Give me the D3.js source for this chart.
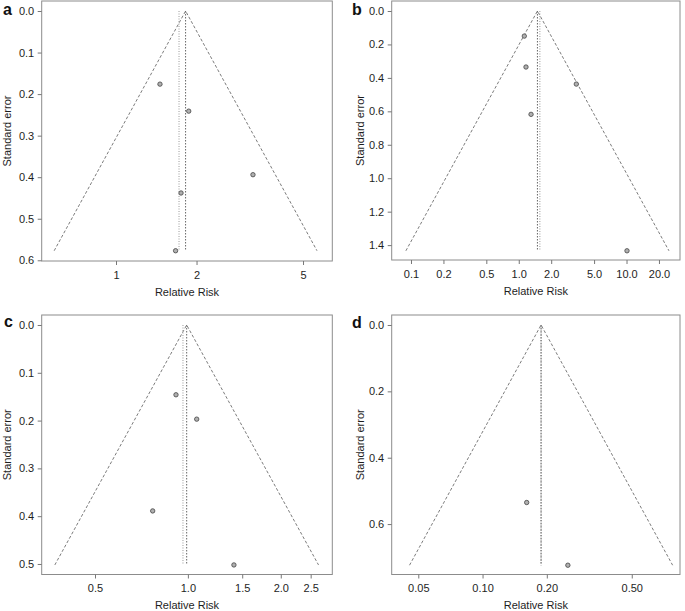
<!DOCTYPE html>
<html>
<head>
<meta charset="utf-8">
<script src="https://cdn.jsdelivr.net/npm/d3@7"></script>
<style>
  body { margin: 0; background: #fff; }
  svg { display: block; font-family: "Liberation Sans", Arial, sans-serif; }
</style>
</head>
<body>
<svg id="chart" width="685" height="611"></svg>
<script>
// study estimates (relative risk, standard error)
const rrA = [1.46, 1.87, 3.25, 1.75, 1.67];
const seA = [0.176, 0.241, 0.394, 0.438, 0.577];
const rrB = [1.126, 1.167, 3.42, 1.30, 10.1];
const seB = [0.150, 0.335, 0.437, 0.618, 1.434];
const rrC = [0.915, 1.068, 0.769, 1.41];
const seC = [0.146, 0.197, 0.389, 0.502];
const rrD = [0.161, 0.251];
const seD = [0.535, 0.724];

// pooled estimate (funnel centre) and the second summary line
const pooledRR = [1.82, 1.49, 0.991, 0.188];
const altRR = [1.72, 1.57, 0.964, 0.188];

const panelLetters = ["a", "b", "c", "d"];

// axis limits
const xDomainA = [0.5276, 6.433];
const xDomainB = [0.06621, 31.35];
const xDomainC = [0.3359, 2.938];
const xDomainD = [0.03753, 0.8414];
const yDomainA = [-0.0241, 0.6017];
const yDomainB = [-0.0598, 1.489];
const yDomainC = [-0.0209, 0.522];
const yDomainD = [-0.0301, 0.752];

// ticks
const xTicksA = [1, 2, 5];
const xLabelsA = ["1", "2", "5"];
const xTicksB = [0.1, 0.2, 0.5, 1, 2, 5, 10, 20];
const xLabelsB = ["0.1", "0.2", "0.5", "1.0", "2.0", "5.0", "10.0", "20.0"];
const xTicksC = [0.5, 1, 1.5, 2, 2.5];
const xLabelsC = ["0.5", "1.0", "1.5", "2.0", "2.5"];
const xTicksD = [0.05, 0.1, 0.2, 0.5];
const xLabelsD = ["0.05", "0.10", "0.20", "0.50"];
const yTicksA = [0, 0.1, 0.2, 0.3, 0.4, 0.5, 0.6];
const yLabelsA = ["0.0", "0.1", "0.2", "0.3", "0.4", "0.5", "0.6"];
const yTicksB = [0, 0.2, 0.4, 0.6, 0.8, 1.0, 1.2, 1.4];
const yLabelsB = ["0.0", "0.2", "0.4", "0.6", "0.8", "1.0", "1.2", "1.4"];
const yTicksC = [0, 0.1, 0.2, 0.3, 0.4, 0.5];
const yLabelsC = ["0.0", "0.1", "0.2", "0.3", "0.4", "0.5"];
const yTicksD = [0, 0.2, 0.4, 0.6];
const yLabelsD = ["0.0", "0.2", "0.4", "0.6"];

const xTitle = "Relative Risk";
const yTitle = "Standard error";

const panels = [
  { letter: panelLetters[0], rr: rrA, se: seA, pooled: pooledRR[0], alt: altRR[0],
    xDomain: xDomainA, yDomain: yDomainA, xTicks: xTicksA, xLabels: xLabelsA, yTicks: yTicksA, yLabels: yLabelsA,
    box: { left: 41.7, top: 1, right: 332.3, bottom: 261 }, letterPos: [3, 14.5], yTitleX: 10.5 },
  { letter: panelLetters[1], rr: rrB, se: seB, pooled: pooledRR[1], alt: altRR[1],
    xDomain: xDomainB, yDomain: yDomainB, xTicks: xTicksB, xLabels: xLabelsB, yTicks: yTicksB, yLabels: yLabelsB,
    box: { left: 391.7, top: 1, right: 680, bottom: 260 }, letterPos: [352, 15], yTitleX: 364 },
  { letter: panelLetters[2], rr: rrC, se: seC, pooled: pooledRR[2], alt: altRR[2],
    xDomain: xDomainC, yDomain: yDomainC, xTicks: xTicksC, xLabels: xLabelsC, yTicks: yTicksC, yLabels: yLabelsC,
    box: { left: 41.7, top: 315, right: 332.3, bottom: 574.5 }, letterPos: [4, 327], yTitleX: 10.5 },
  { letter: panelLetters[3], rr: rrD, se: seD, pooled: pooledRR[3], alt: altRR[3],
    xDomain: xDomainD, yDomain: yDomainD, xTicks: xTicksD, xLabels: xLabelsD, yTicks: yTicksD, yLabels: yLabelsD,
    box: { left: 391.7, top: 315, right: 680, bottom: 574.5 }, letterPos: [352, 327.5], yTitleX: 364 }
];

const svg = d3.select("#chart");

function drawPanel(p) {
  const g = svg.append("g").attr("class", "panel");
  const b = p.box;
  const x = d3.scaleLog().domain(p.xDomain).range([b.left, b.right]);
  const y = d3.scaleLinear().domain(p.yDomain).range([b.top, b.bottom]);
  const maxSe = d3.max(p.se);

  // frame
  g.append("rect")
    .attr("x", b.left).attr("y", b.top)
    .attr("width", b.right - b.left).attr("height", b.bottom - b.top)
    .attr("fill", "none").attr("stroke", "#8c8c8c").attr("stroke-width", 1);

  // y axis
  const yAxis = g.append("g")
    .attr("transform", `translate(${b.left},0)`)
    .call(d3.axisLeft(y).tickValues(p.yTicks).tickFormat((d, i) => p.yLabels[i]).tickSize(4).tickPadding(3.5));
  yAxis.select(".domain").remove();

  // x axis
  const xAxis = g.append("g")
    .attr("transform", `translate(0,${b.bottom})`)
    .call(d3.axisBottom(x).tickValues(p.xTicks).tickFormat((d, i) => p.xLabels[i]).tickSize(4).tickPadding(6));
  xAxis.select(".domain").remove();

  g.selectAll(".tick line").attr("stroke", "#777");
  g.selectAll(".tick text")
    .attr("fill", "#1e1e1e")
    .style("font-size", "11px")
    .style("font-family", "'Liberation Sans', Arial, sans-serif");

  // pseudo 95% confidence funnel
  const z = 1.96;
  const funnel = [
    [p.pooled * Math.exp(-z * maxSe), maxSe],
    [p.pooled, 0],
    [p.pooled * Math.exp(z * maxSe), maxSe]
  ];
  g.append("path")
    .attr("d", d3.line().x(d => x(d[0])).y(d => y(d[1]))(funnel))
    .attr("fill", "none")
    .attr("stroke", "#5a5a5a")
    .attr("stroke-width", 0.8)
    .attr("stroke-dasharray", "3,2");

  // summary lines
  g.append("line")
    .attr("x1", x(p.alt)).attr("x2", x(p.alt))
    .attr("y1", y(0)).attr("y2", y(maxSe))
    .attr("stroke", "#999").attr("stroke-width", 1)
    .attr("stroke-dasharray", "1,1.5");
  g.append("line")
    .attr("x1", x(p.pooled)).attr("x2", x(p.pooled))
    .attr("y1", y(0)).attr("y2", y(maxSe))
    .attr("stroke", "#666").attr("stroke-width", 1)
    .attr("stroke-dasharray", "1.5,1.5");

  // studies
  g.selectAll(".study")
    .data(p.rr.map((r, i) => ({ rr: r, se: p.se[i] })))
    .enter().append("circle")
    .attr("class", "study")
    .attr("cx", d => x(d.rr))
    .attr("cy", d => y(d.se))
    .attr("r", 2.2)
    .attr("fill", "#b0b0b0")
    .attr("stroke", "#444")
    .attr("stroke-width", 0.8);

  // titles
  g.append("text")
    .attr("x", (b.left + b.right) / 2)
    .attr("y", b.bottom + 34.5)
    .attr("text-anchor", "middle")
    .attr("fill", "#1e1e1e")
    .style("font-size", "11px")
    .text(xTitle);

  g.append("text")
    .attr("transform", `translate(${p.yTitleX},${(b.top + b.bottom) / 2}) rotate(-90)`)
    .attr("text-anchor", "middle")
    .attr("fill", "#1e1e1e")
    .style("font-size", "11px")
    .text(yTitle);

  g.append("text")
    .attr("x", p.letterPos[0])
    .attr("y", p.letterPos[1])
    .attr("fill", "#111")
    .style("font-size", "16px")
    .style("font-weight", "bold")
    .text(p.letter);
}

panels.forEach(drawPanel);
</script>
</body>
</html>
